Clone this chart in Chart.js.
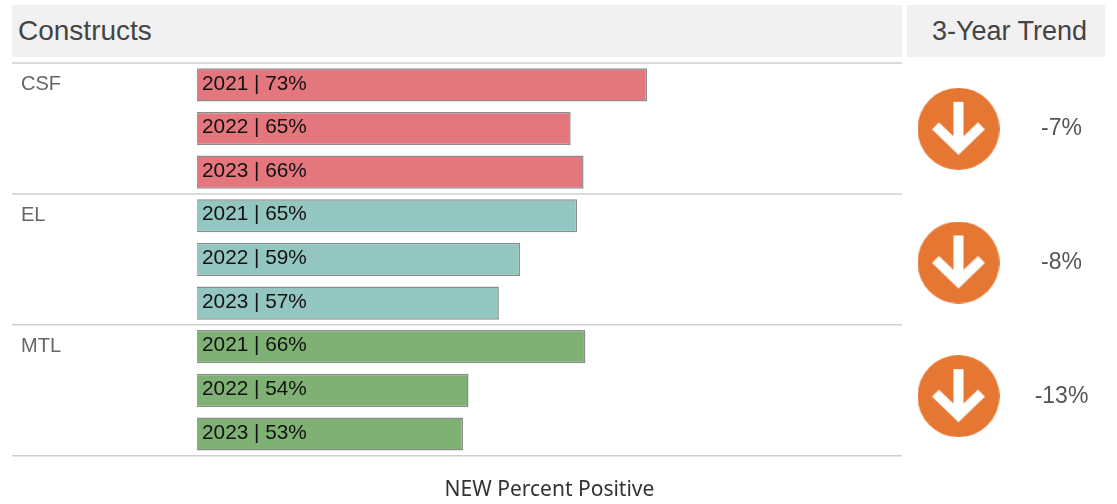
<!DOCTYPE html>
<html>
<head>
<meta charset="utf-8">
<title>Constructs</title>
<script src="https://cdn.jsdelivr.net/npm/chart.js@4"></script>
<style>
    html, body { margin: 0; padding: 0; background: #fff; }
    body { position: relative; width: 1117px; height: 504px; overflow: hidden; font-family: "Liberation Sans", sans-serif; }
    canvas { position: absolute; top: 0; }
    .header { position: absolute; top: 5px; height: 52px; line-height: 52px; background: #f1f1f1; color: #444; }
    #headerLeft { left: 12px; width: 884px; padding-left: 6px; font-size: 28px; }
    #headerRight { left: 907px; width: 191px; padding-left: 7px; text-align: center; font-size: 27px; }
</style>
</head>
<body>
<div class="header" id="headerLeft">Constructs</div>
<div class="header" id="headerRight">3-Year Trend</div>
<canvas id="barsChart" width="1117" height="504" style="left:0"></canvas>
<canvas id="trendChart" width="210" height="504" style="left:907px"></canvas>
<script>
const constructs = ['CSF', 'EL', 'MTL'];
const years = ['2021', '2022', '2023'];
const csfValues = [73.0, 64.7, 66.1];
const elValues = [65.4, 59.2, 56.9];
const mtlValues = [66.3, 53.6, 53.0];
const trendValues = [-7, -8, -13];
const constructColors = ['#e4777d', '#93c6c0', '#7fb174'];
const axisTitle = 'NEW Percent Positive';

const allValues = [...csfValues, ...elValues, ...mtlValues];
const rowLabels = constructs.flatMap(c => years.map(y => c + ' ' + y));
const barColors = constructs.flatMap((c, i) => years.map(() => constructColors[i]));

// Year | value text inside each bar, separators between the construct groups
const barExtras = {
    id: 'barExtras',
    afterDatasetsDraw(chart) {
        const ctx = chart.ctx;
        const yScale = chart.scales.y;
        ctx.save();
        ctx.strokeStyle = '#cfcfcf';
        ctx.lineWidth = 1.5;
        for (let i = 0; i <= constructs.length; i++) {
            const y = yScale.getPixelForValue(i * years.length - 0.5);
            ctx.beginPath();
            ctx.moveTo(12, y);
            ctx.lineTo(chart.chartArea.right, y);
            ctx.stroke();
        }
        ctx.fillStyle = '#111';
        ctx.font = '20.8px "Liberation Sans"';
        ctx.textBaseline = 'middle';
        chart.getDatasetMeta(0).data.forEach((bar, i) => {
            const text = years[i % years.length] + ' | ' + Math.round(allValues[i]) + '%';
            ctx.fillText(text, chart.chartArea.left + 5, bar.y - 1);
        });
        ctx.restore();
    }
};

new Chart(document.getElementById('barsChart').getContext('2d'), {
    type: 'bar',
    data: {
        labels: rowLabels,
        datasets: [{
            data: allValues,
            backgroundColor: barColors,
            borderColor: '#8c8c8c',
            borderWidth: 1.5,
            borderSkipped: false,
            categoryPercentage: 1,
            barPercentage: 0.76
        }]
    },
    options: {
        indexAxis: 'y',
        responsive: false,
        animation: false,
        layout: { padding: { left: 21, right: 215, top: 63, bottom: 0 } },
        plugins: { legend: { display: false }, tooltip: { enabled: false } },
        scales: {
            x: {
                min: 24.1,
                max: 100.7,
                grid: { display: false },
                border: { display: false },
                ticks: { display: false },
                title: {
                    display: true,
                    text: axisTitle,
                    color: '#333',
                    font: { family: 'Noto Sans', size: 21 },
                    padding: { top: 14, bottom: 1 }
                }
            },
            y: {
                afterFit(axis) { axis.width = 176; },
                grid: { display: false },
                border: { display: false },
                ticks: {
                    autoSkip: false,
                    crossAlign: 'far',
                    color: '#666',
                    font: { family: 'Liberation Sans', size: 20 },
                    callback(value, index) {
                        return index % years.length === 0 ? constructs[index / years.length] : '';
                    }
                }
            }
        }
    },
    plugins: [barExtras]
});

// Orange circle with a white down arrow, used as the point style of the trend chart
function makeArrowIcon(radius) {
    const icon = document.createElement('canvas');
    icon.width = radius * 2;
    icon.height = radius * 2;
    const c = icon.getContext('2d');
    c.translate(radius, radius);
    c.fillStyle = '#e67733';
    c.beginPath();
    c.arc(0, 0, radius, 0, Math.PI * 2);
    c.fill();
    c.strokeStyle = '#fff';
    c.lineWidth = 10;
    c.beginPath();
    c.moveTo(0, -27);
    c.lineTo(0, 18);
    c.moveTo(-23, -3);
    c.lineTo(0, 19);
    c.lineTo(23, -3);
    c.stroke();
    return icon;
}

// Percent change to the right of each circle
const trendText = {
    id: 'trendText',
    afterDatasetsDraw(chart) {
        const ctx = chart.ctx;
        ctx.save();
        ctx.fillStyle = '#555';
        ctx.font = '23px "Liberation Sans"';
        ctx.textAlign = 'center';
        ctx.textBaseline = 'middle';
        chart.getDatasetMeta(0).data.forEach((point, i) => {
            ctx.fillText(trendValues[i] + '%', point.x + 103, point.y);
        });
        ctx.restore();
    }
};

new Chart(document.getElementById('trendChart').getContext('2d'), {
    type: 'scatter',
    data: {
        datasets: [{
            data: constructs.map(c => ({ x: 0, y: c })),
            pointStyle: makeArrowIcon(41),
            clip: false
        }]
    },
    options: {
        responsive: false,
        animation: false,
        layout: { padding: { top: 62, bottom: 41, left: 0, right: 0 } },
        plugins: { legend: { display: false }, tooltip: { enabled: false } },
        scales: {
            x: { type: 'linear', min: -0.93, max: 3.07, display: false },
            y: { type: 'category', labels: constructs, offset: true, display: false }
        }
    },
    plugins: [trendText]
});
</script>
</body>
</html>
